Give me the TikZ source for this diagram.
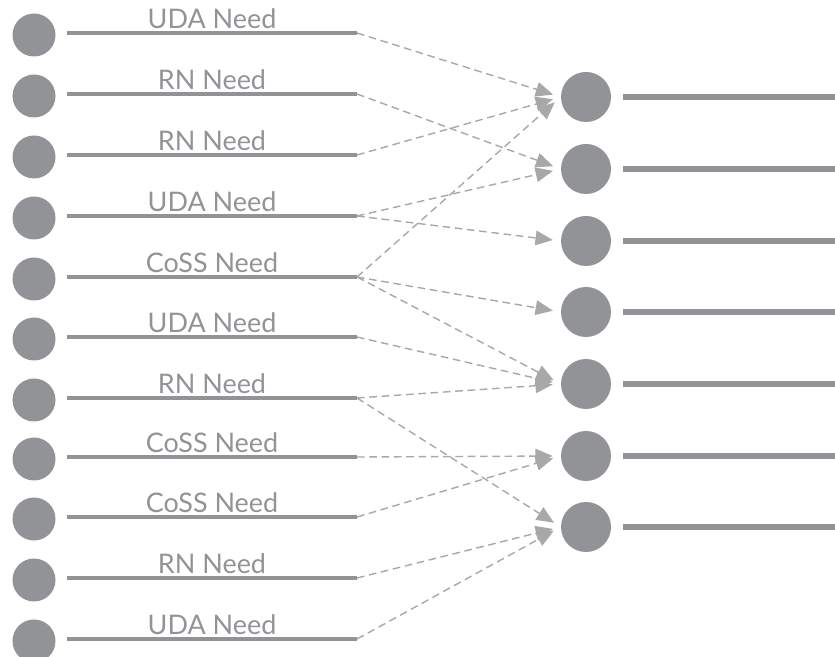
\documentclass[tikz,border=0pt]{standalone}
\usepackage{fontspec}
\setmainfont{Lato}
\usepackage{tikz}
\usetikzlibrary{arrows.meta,positioning}
\definecolor{dotgray}{RGB}{146,147,151}
\definecolor{flowgray}{RGB}{168,168,168}

\begin{document}
\begin{tikzpicture}[x=0.03cm, y=-0.03cm,
    need/.style={draw=dotgray, line width=3pt},
    outbar/.style={draw=dotgray, line width=5.5pt},
    flow/.style={draw=flowgray, line width=1.2pt, dash pattern=on 6.5pt off 4pt,
      -{Triangle[length=0.52cm,width=0.44cm]}, shorten >=0.24cm},
    lbl/.style={above, inner sep=2.5pt, text=dotgray, font=\fontsize{23}{26}\selectfont}]
   \useasboundingbox (0,0) rectangle (835,657);
   % left column
   \begin{scope}[every node/.style={circle,fill=dotgray,minimum size=1.29cm,inner sep=0pt}]
    \node (l1) at (34,35) {};
    \node (l2) at (34,96) {};
    \node (l3) at (34,157) {};
    \node (l4) at (34,218) {};
    \node (l5) at (34,279) {};
    \node (l6) at (34,339) {};
    \node (l7) at (34,400) {};
    \node (l8) at (34,459) {};
    \node (l9) at (34,519) {};
    \node (l10) at (34,580) {};
    \node (l11) at (34,641) {};
   \end{scope}
   % right column
   \begin{scope}[every node/.style={circle,fill=dotgray,minimum size=1.5cm,inner sep=0pt}]
    \node (r1) at (586,97) {};
    \node (r2) at (586,169) {};
    \node (r3) at (586,241) {};
    \node (r4) at (586,312) {};
    \node (r5) at (586,384) {};
    \node (r6) at (586,456) {};
    \node (r7) at (586,527) {};
   \end{scope}
   % bar ends
   \coordinate (s1) at (67,33);   \coordinate (e1) at (357,33);
   \coordinate (s2) at (67,94);   \coordinate (e2) at (357,94);
   \coordinate (s3) at (67,155);  \coordinate (e3) at (357,155);
   \coordinate (s4) at (67,216);  \coordinate (e4) at (357,216);
   \coordinate (s5) at (67,277);  \coordinate (e5) at (357,277);
   \coordinate (s6) at (67,337);  \coordinate (e6) at (357,337);
   \coordinate (s7) at (67,398);  \coordinate (e7) at (357,398);
   \coordinate (s8) at (67,457);  \coordinate (e8) at (357,457);
   \coordinate (s9) at (67,517);  \coordinate (e9) at (357,517);
   \coordinate (s10) at (67,578); \coordinate (e10) at (357,578);
   \coordinate (s11) at (67,639); \coordinate (e11) at (357,639);
   \coordinate (o1) at (835,97);
   \coordinate (o2) at (835,169);
   \coordinate (o3) at (835,241);
   \coordinate (o4) at (835,312);
   \coordinate (o5) at (835,384);
   \coordinate (o6) at (835,456);
   \coordinate (o7) at (835,527);
   % needs
   \draw[need] (s1) -- node[lbl]{UDA Need} (e1);
   \draw[need] (s2) -- node[lbl]{RN Need} (e2);
   \draw[need] (s3) -- node[lbl]{RN Need} (e3);
   \draw[need] (s4) -- node[lbl]{UDA Need} (e4);
   \draw[need] (s5) -- node[lbl]{CoSS Need} (e5);
   \draw[need] (s6) -- node[lbl]{UDA Need} (e6);
   \draw[need] (s7) -- node[lbl]{RN Need} (e7);
   \draw[need] (s8) -- node[lbl]{CoSS Need} (e8);
   \draw[need] (s9) -- node[lbl]{CoSS Need} (e9);
   \draw[need] (s10) -- node[lbl]{RN Need} (e10);
   \draw[need] (s11) -- node[lbl]{UDA Need} (e11);
   % outputs
   \draw[outbar] ([xshift=1.11cm]r1.center) -- (o1);
   \draw[outbar] ([xshift=1.11cm]r2.center) -- (o2);
   \draw[outbar] ([xshift=1.11cm]r3.center) -- (o3);
   \draw[outbar] ([xshift=1.11cm]r4.center) -- (o4);
   \draw[outbar] ([xshift=1.11cm]r5.center) -- (o5);
   \draw[outbar] ([xshift=1.11cm]r6.center) -- (o6);
   \draw[outbar] ([xshift=1.11cm]r7.center) -- (o7);
   % flows
   \begin{scope}[every edge/.style={flow}]
    \draw (e1) edge (r1.west);
    \draw (e2) edge (r2.west);
    \draw (e3) edge (r1.west);
    \draw (e4) edge (r2.west);
    \draw (e4) edge (r3.west);
    \draw (e5) edge (r1.west);
    \draw (e5) edge (r4.west);
    \draw (e5) edge (r5.west);
    \draw (e6) edge (r5.west);
    \draw (e7) edge (r5.west);
    \draw (e7) edge (r7.west);
    \draw (e8) edge (r6.west);
    \draw (e9) edge (r6.west);
    \draw (e10) edge (r7.west);
    \draw (e11) edge (r7.west);
   \end{scope}
\end{tikzpicture}
\end{document}
